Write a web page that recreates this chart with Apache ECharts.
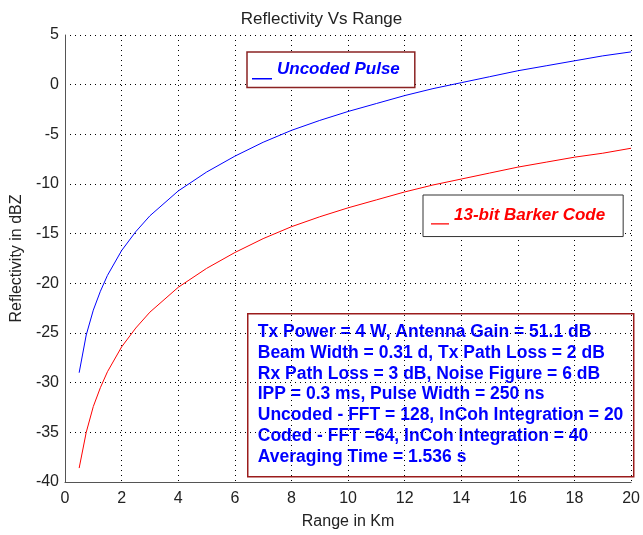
<!DOCTYPE html>
<html>
<head>
<meta charset="utf-8">
<title>Reflectivity Vs Range</title>
<script src="https://cdn.jsdelivr.net/npm/echarts@6/dist/echarts.min.js"></script>
<style>
  html, body { margin: 0; padding: 0; background: #fff; }
  #chart { width: 643px; height: 535px; }
</style>
</head>
<body>
<div id="chart"></div>
<script>
// range in km
const rangeKm = [0.5, 0.75, 1, 1.25, 1.5, 2, 2.5, 3, 4, 5, 6, 7, 8, 9, 10, 11, 12, 13, 14, 15, 16, 17, 18, 19, 20]
// reflectivity (dBZ)
const uncoded = [-29.0, -25.2, -22.7, -20.8, -19.2, -16.7, -14.8, -13.2, -10.7, -8.8, -7.2, -5.8, -4.6, -3.6, -2.7, -1.9, -1.1, -0.4, 0.2, 0.8, 1.4, 1.9, 2.4, 2.9, 3.3]
const barker = [-38.6, -35.0, -32.4, -30.5, -28.9, -26.4, -24.5, -22.9, -20.4, -18.5, -16.9, -15.5, -14.3, -13.3, -12.4, -11.6, -10.8, -10.1, -9.5, -8.9, -8.3, -7.8, -7.3, -6.9, -6.4]

const infoLines = [
  'Tx Power = 4 W, Antenna Gain = 51.1 dB',
  'Beam Width = 0.31 d, Tx Path Loss = 2 dB',
  'Rx Path Loss = 3 dB, Noise Figure = 6 dB',
  'IPP = 0.3 ms, Pulse Width = 250 ns',
  'Uncoded - FFT = 128, InCoh Integration = 20',
  'Coded - FFT =64, InCoh Integration = 40',
  'Averaging Time = 1.536 s'
]

const font = 'Liberation Sans, Arial, sans-serif'
const pair = (xs, ys) => xs.map((x, i) => [x, ys[i]])

// 图例标记：底部一条短横线（左上角放一个极小点撑开包围盒）
const dashIcon = 'path://M0,0 L0.05,0 L0.05,0.05 Z M0,18 L20,18 L20,19.5 L0,19.5 Z'

const chart = echarts.init(document.getElementById('chart'))

const axisCommon = {
  axisLine: { show: true, onZero: false, lineStyle: { color: '#555', width: 1 } },
  axisTick: { show: false },
  axisLabel: { color: '#222', fontFamily: font, fontSize: 16 },
  splitLine: { show: true, lineStyle: { color: '#000', type: [1, 4], width: 1 } },
  nameTextStyle: { color: '#222', fontFamily: font, fontSize: 16 }
}

chart.setOption({
  animation: false,
  title: {
    text: 'Reflectivity Vs Range',
    left: 'center',
    top: 6,
    textStyle: { fontFamily: font, fontSize: 17, fontWeight: 'normal', color: '#222' }
  },
  grid: { left: 65, right: 8, top: 35, bottom: 52 },
  legend: [
    {
      data: ['Uncoded Pulse'],
      left: 247, top: 52,
      padding: [8, 15, 8, 5],
      itemWidth: 20, itemHeight: 20, itemGap: 6,
      icon: dashIcon,
      backgroundColor: '#fff',
      borderColor: '#8b2323', borderWidth: 1.5,
      selectedMode: false,
      textStyle: { color: '#0000ff', fontFamily: font, fontSize: 17, fontWeight: 'bold', fontStyle: 'italic' }
    },
    {
      data: ['13-bit Barker Code'],
      left: 423, top: 195,
      padding: [12, 18, 12, 8],
      itemWidth: 18, itemHeight: 20, itemGap: 8,
      icon: dashIcon,
      backgroundColor: '#fff',
      borderColor: '#333', borderWidth: 1,
      selectedMode: false,
      textStyle: { color: '#ff0000', fontFamily: font, fontSize: 17, fontWeight: 'bold', fontStyle: 'italic' }
    }
  ],
  xAxis: Object.assign({}, axisCommon, {
    type: 'value', min: 0, max: 20, interval: 2,
    name: 'Range in Km', nameLocation: 'middle', nameGap: 32,
    axisLabel: Object.assign({}, axisCommon.axisLabel, { margin: 9 })
  }),
  yAxis: Object.assign({}, axisCommon, {
    type: 'value', min: -40, max: 5, interval: 5,
    name: 'Reflectivity in dBZ', nameLocation: 'middle', nameGap: 40,
    axisLabel: Object.assign({}, axisCommon.axisLabel, { margin: 6 })
  }),
  series: [
    {
      name: 'Uncoded Pulse', type: 'line', data: pair(rangeKm, uncoded),
      showSymbol: false, smooth: false,
      itemStyle: { color: '#0000ff' },
      lineStyle: { color: '#0000ff', width: 1 }
    },
    {
      name: '13-bit Barker Code', type: 'line', data: pair(rangeKm, barker),
      showSymbol: false, smooth: false,
      itemStyle: { color: '#ff0000' },
      lineStyle: { color: '#ff0000', width: 1 }
    }
  ],
  graphic: [
    {
      type: 'group', left: 247, top: 313,
      children: [
        {
          type: 'rect',
          shape: { x: 0, y: 0, width: 386, height: 163 },
          style: { fill: '#fff', stroke: '#9b1c1c', lineWidth: 1.5 }
        },
        {
          type: 'text', x: 10, y: 8,
          style: {
            text: infoLines.join('\n'),
            fill: '#0000ff',
            font: 'bold 17.5px ' + font,
            lineHeight: 20.8
          }
        }
      ]
    }
  ]
})
</script>
</body>
</html>
